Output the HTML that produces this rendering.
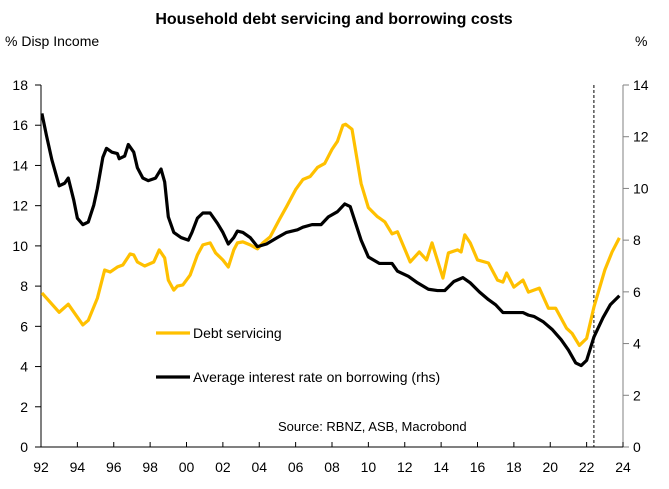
<!DOCTYPE html>
<html><head><meta charset="utf-8"><style>
html,body{margin:0;padding:0;background:#fff;width:669px;height:489px;overflow:hidden}
svg{display:block;font-family:"Liberation Sans",sans-serif}
</style></head><body>
<svg id="c" width="669" height="489"></svg>
<script>
const debtYears=[92.05,93.0,93.5,94.3,94.6,95.1,95.5,95.8,96.2,96.5,96.9,97.1,97.3,97.7,98.2,98.5,98.8,99.0,99.3,99.5,99.8,100.2,100.6,100.9,101.3,101.6,102.0,102.3,102.6,102.8,103.1,103.5,103.9,104.2,104.6,105.1,105.5,106.0,106.4,106.8,107.2,107.6,108.0,108.3,108.6,108.75,109.1,109.6,110.0,110.5,110.9,111.3,111.6,112.3,112.8,113.2,113.5,114.1,114.4,114.9,115.1,115.3,115.6,116.0,116.6,117.1,117.4,117.6,118.0,118.5,118.8,119.4,119.9,120.3,120.9,121.2,121.6,122.0,122.4,123.0,123.4,123.8];
const debtValues=[7.66,6.7,7.1,6.07,6.3,7.4,8.8,8.7,8.95,9.05,9.6,9.55,9.2,9.0,9.2,9.8,9.4,8.3,7.8,8.0,8.06,8.55,9.55,10.05,10.15,9.65,9.3,8.95,9.8,10.15,10.2,10.05,9.85,10.15,10.45,11.3,11.95,12.8,13.3,13.45,13.9,14.1,14.8,15.2,16.0,16.05,15.8,13.1,11.9,11.45,11.2,10.6,10.7,9.2,9.7,9.3,10.15,8.4,9.65,9.8,9.7,10.55,10.15,9.3,9.15,8.3,8.2,8.65,7.95,8.3,7.7,7.9,6.9,6.9,5.9,5.65,5.05,5.4,6.95,8.8,9.7,10.4];
const rateYears=[92.05,92.3,92.6,93.0,93.3,93.5,93.8,94.0,94.3,94.6,94.9,95.1,95.4,95.6,95.9,96.2,96.3,96.6,96.8,97.1,97.3,97.6,97.9,98.3,98.6,98.8,99.0,99.3,99.7,100.1,100.3,100.6,100.9,101.3,101.7,102.0,102.3,102.6,102.8,103.1,103.5,103.9,104.4,105.0,105.5,106.1,106.4,106.9,107.4,107.8,108.3,108.7,109.0,109.6,110.0,110.6,111.3,111.6,112.2,112.7,113.3,113.8,114.2,114.7,115.2,115.6,116.1,116.6,117.0,117.4,118.5,118.8,119.1,119.6,120.1,120.6,121.0,121.4,121.7,122.0,122.4,122.9,123.3,123.8];
const rateValues=[12.9,12.05,11.1,10.1,10.2,10.4,9.55,8.85,8.6,8.7,9.35,10.0,11.2,11.55,11.4,11.35,11.15,11.25,11.7,11.4,10.8,10.4,10.3,10.4,10.75,10.25,8.9,8.3,8.1,8.0,8.3,8.85,9.05,9.05,8.65,8.3,7.85,8.1,8.35,8.3,8.1,7.75,7.85,8.1,8.3,8.4,8.5,8.6,8.6,8.9,9.1,9.4,9.3,8.0,7.35,7.1,7.1,6.8,6.6,6.35,6.1,6.05,6.05,6.4,6.55,6.35,6.0,5.7,5.5,5.2,5.2,5.1,5.05,4.85,4.55,4.15,3.75,3.25,3.15,3.35,4.25,5.0,5.5,5.85];
const leftTicks=[0,2,4,6,8,10,12,14,16,18];
const rightTicks=[0,2,4,6,8,10,12,14];
const xTicks=[92,94,96,98,100,102,104,106,108,110,112,114,116,118,120,122,124];
const xLabels=["92","94","96","98","00","02","04","06","08","10","12","14","16","18","20","22","24"];
const markerYear=122.4;

const X0=41,X1=623,Y0=447,Y1=85;
const xs=v=>X0+(v-92)*(X1-X0)/32;
const yl=v=>Y0-v*(Y0-Y1)/18;
const yr=v=>Y0-v*(Y0-Y1)/14;
const svg=document.getElementById('c');
const NS='http://www.w3.org/2000/svg';
function mk(tag,attrs,txt){const e=document.createElementNS(NS,tag);for(const k in attrs)e.setAttribute(k,attrs[k]);if(txt!==undefined)e.textContent=txt;svg.appendChild(e);return e;}

let t=mk('text',{x:334,y:24,'text-anchor':'middle','font-size':16,'font-weight':'bold',fill:'#000'},'Household debt servicing and borrowing costs');


t=mk('text',{x:5,y:46,'font-size':14,fill:'#000'},'% Disp Income');


t=mk('text',{x:635,y:46,'font-size':14,fill:'#000'},'%');



let a=mk('line',{x1:X0,y1:Y1,x2:X0,y2:Y0,stroke:'#000','stroke-width':1});


a=mk('line',{x1:X1,y1:Y1,x2:X1,y2:Y0,stroke:'#808080','stroke-width':1});


a=mk('line',{x1:X0,y1:Y0,x2:X1,y2:Y0,stroke:'#000','stroke-width':1});



leftTicks.forEach(v=>{
  mk('line',{x1:X0-6,y1:yl(v),x2:X0,y2:yl(v),stroke:'#000'});
  const e=mk('text',{x:28,y:yl(v)+5,'text-anchor':'end','font-size':14,fill:'#000'},String(v));
  
  
});
rightTicks.forEach(v=>{
  mk('line',{x1:X1,y1:yr(v),x2:X1+6,y2:yr(v),stroke:'#808080'});
  const e=mk('text',{x:633,y:yr(v)+5,'font-size':14,fill:'#000'},String(v));
  
  
});
xTicks.forEach((v,i)=>{
  mk('line',{x1:xs(v),y1:Y0-5,x2:xs(v),y2:Y0,stroke:'#000'});
  const e=mk('text',{x:xs(v),y:472,'text-anchor':'middle','font-size':14,fill:'#000'},xLabels[i]);
  
  
});

const m=mk('line',{x1:xs(markerYear),y1:Y1,x2:xs(markerYear),y2:Y0,stroke:'#000','stroke-width':1,'stroke-dasharray':'3,2'});



const p1=mk('polyline',{points:debtYears.map((y,i)=>xs(y)+','+yl(debtValues[i])).join(' '),fill:'none',stroke:'#FFC000','stroke-width':3.2,'stroke-linejoin':'round'});


const p2=mk('polyline',{points:rateYears.map((y,i)=>xs(y)+','+yr(rateValues[i])).join(' '),fill:'none',stroke:'#000','stroke-width':3.2,'stroke-linejoin':'round'});



let l=mk('line',{x1:156,y1:333,x2:190,y2:333,stroke:'#FFC000','stroke-width':3.2});


t=mk('text',{x:193,y:338,'font-size':14,fill:'#000'},'Debt servicing');


l=mk('line',{x1:156,y1:377,x2:190,y2:377,stroke:'#000','stroke-width':3.2});


t=mk('text',{x:193,y:382,'font-size':14,fill:'#000'},'Average interest rate on borrowing (rhs)');


t=mk('text',{x:278,y:431,'font-size':13,fill:'#000'},'Source: RBNZ, ASB, Macrobond');


</script>
</body></html>
